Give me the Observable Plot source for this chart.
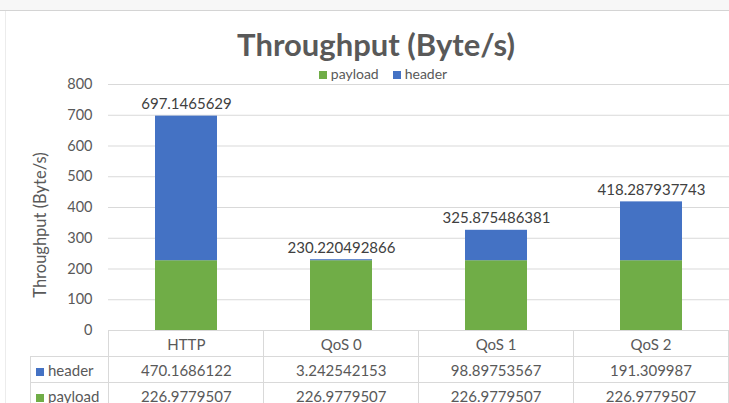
<!DOCTYPE html>
<html>
<head>
<meta charset="utf-8">
<script src="https://cdn.jsdelivr.net/npm/d3@7"></script>
<script src="https://cdn.jsdelivr.net/npm/@observablehq/plot@0.6"></script>
<style>
  html, body { margin:0; padding:0; background:#fff; }
  body { width:729px; height:403px; overflow:hidden; position:relative; font-family:Lato, "Open Sans", sans-serif; }
  #topstrip { position:absolute; left:0; top:0; width:729px; height:10px; background:#f7f7f7; border-bottom:1px solid #d4d4d4; }
  #leftline { position:absolute; left:5px; top:11px; width:1px; height:392px; background:#ececec; }
  #chart { position:absolute; left:0; top:0; }
  #title { position:absolute; left:0; width:752px; top:25px; text-align:center; font-size:31px; font-weight:bold; color:#595959; }
  #legend { position:absolute; left:0; width:766px; top:65px; text-align:center; font-size:14px; color:#595959; }
  #legend .sw { display:inline-block; width:8px; height:8px; margin-right:4px; vertical-align:0px; }
  #legend .item { margin:0 7px; }
  #ylabel { position:absolute; left:40px; top:225px; transform:translate(-50%,-50%) rotate(-90deg); font-size:16.5px; color:#595959; white-space:nowrap; }
  #table { position:absolute; left:30px; top:330px; border-collapse:collapse; font-size:15px; color:#595959; }
  #table td { border:1px solid #d9d9d9; height:25px; padding:0; text-align:center; }
  #table td.blank { border:none; }
  #table td.rowlab { text-align:left; padding-left:5px; }
  #table .sw { display:inline-block; width:8px; height:8px; margin-right:4px; }
</style>
</head>
<body>
<div id="topstrip"></div>
<div id="leftline"></div>
<div id="chart"></div>
<div id="title"></div>
<div id="legend"></div>
<div id="ylabel"></div>
<table id="table"></table>
<script>
const categories = ["HTTP", "QoS 0", "QoS 1", "QoS 2"];
const headerValues = [470.1686122, 3.242542153, 98.89753567, 191.309987];
const payloadValues = [226.9779507, 226.9779507, 226.9779507, 226.9779507];
const headerLabels = ["470.1686122", "3.242542153", "98.89753567", "191.309987"];
const payloadLabels = ["226.9779507", "226.9779507", "226.9779507", "226.9779507"];
const totalLabels = ["697.1465629", "230.220492866", "325.875486381", "418.287937743"];
const yTicks = [0, 100, 200, 300, 400, 500, 600, 700, 800];
const seriesNames = ["payload", "header"];
const seriesColors = ["#70AD47", "#4472C4"];
const titleText = "Throughput (Byte/s)";
const yLabelText = "Throughput (Byte/s)";

const rows = [];
categories.forEach((c, i) => rows.push({category: c, series: "payload", value: payloadValues[i]}));
categories.forEach((c, i) => rows.push({category: c, series: "header", value: headerValues[i]}));
const totals = categories.map((c, i) => ({category: c, total: payloadValues[i] + headerValues[i], label: totalLabels[i]}));

const plot = Plot.plot({
  width: 729,
  height: 403,
  marginTop: 84,
  marginBottom: 73,
  marginLeft: 108,
  marginRight: 0,
  style: {fontFamily: "Lato, 'Open Sans', sans-serif", fontSize: "14.5px", color: "#595959", background: "transparent"},
  x: {domain: categories, paddingInner: 0.6, paddingOuter: 0.3, axis: null},
  y: {domain: [0, 800]},
  color: {domain: seriesNames, range: seriesColors},
  marks: [
    Plot.gridY(yTicks, {stroke: "#D9D9D9", strokeOpacity: 1, strokeWidth: 1}),
    Plot.axisY(yTicks, {tickSize: 0, tickPadding: 16, label: null, fill: "#595959", fontSize: 14.5}),
    Plot.barY(rows, {x: "category", y: "value", fill: "series", order: seriesNames}),
    Plot.text(totals, {x: "category", y: "total", text: "label", dy: -12, fill: "#404040", fontSize: 15})
  ]
});
document.getElementById("chart").appendChild(plot);

document.getElementById("title").textContent = titleText;
document.getElementById("ylabel").textContent = yLabelText;

const legend = document.getElementById("legend");
seriesNames.forEach((s, i) => {
  const span = document.createElement("span");
  span.className = "item";
  span.innerHTML = `<span class="sw" style="background:${seriesColors[i]}"></span>${s}`;
  legend.appendChild(span);
});

const table = document.getElementById("table");
const colW = 621 / categories.length;
let html = `<tr><td class="blank" style="width:78px"></td>` +
  categories.map(c => `<td style="width:${colW - 1}px">${c}</td>`).join("") + `</tr>`;
const tableRows = [
  {name: "header", color: seriesColors[1], labels: headerLabels},
  {name: "payload", color: seriesColors[0], labels: payloadLabels}
];
tableRows.forEach(r => {
  html += `<tr><td class="rowlab"><span class="sw" style="background:${r.color}"></span>${r.name}</td>` +
    r.labels.map(v => `<td>${v}</td>`).join("") + `</tr>`;
});
table.innerHTML = html;
</script>
</body>
</html>
